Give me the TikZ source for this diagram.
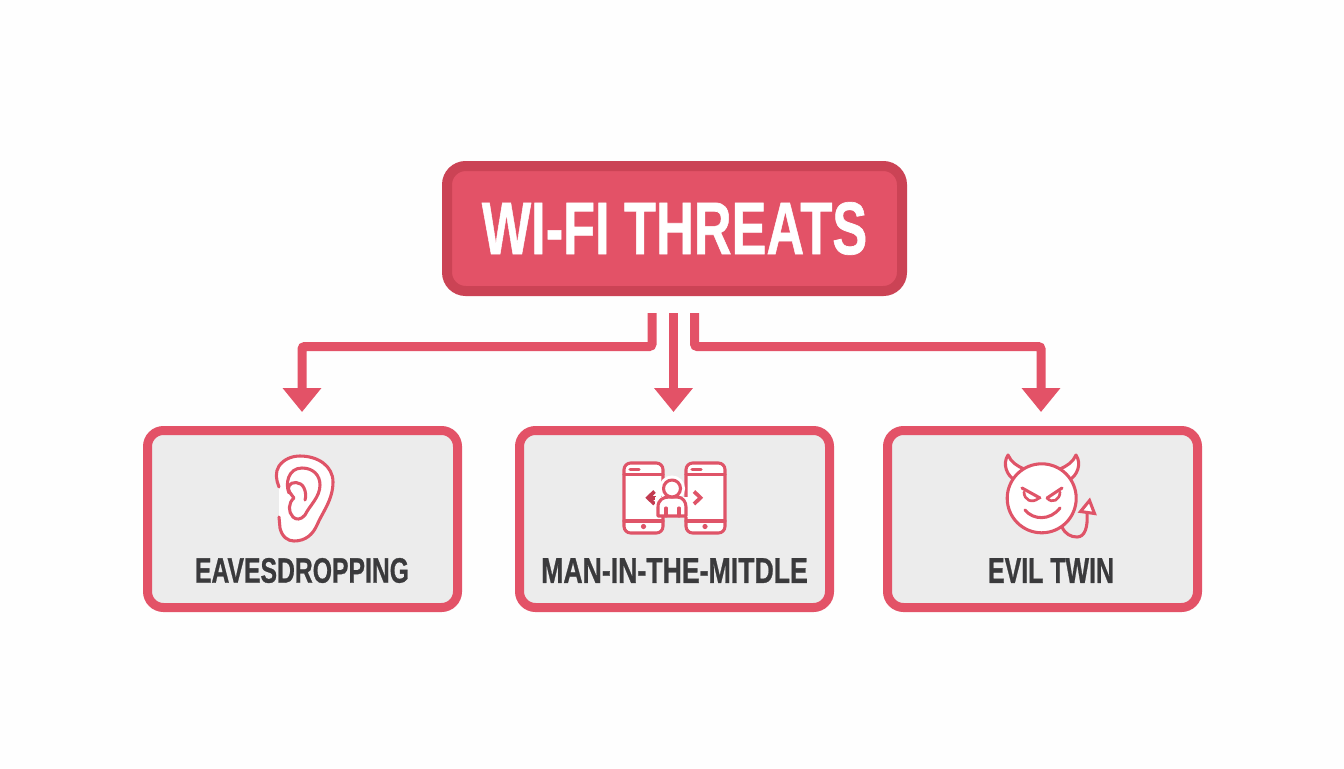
\documentclass[tikz,border=0pt]{standalone}
\usepackage{graphicx}
\usepackage{fontspec}
\setmainfont{Liberation Sans}[BoldFeatures={FakeBold=0.9}]
\usetikzlibrary{arrows.meta}
\definecolor{redmain}{HTML}{E35267}
\definecolor{reddark}{HTML}{CB4355}
\definecolor{redicon}{HTML}{DF5468}
\definecolor{redchev}{HTML}{C23A50}
\definecolor{boxgrey}{HTML}{ECECEC}
\definecolor{labelgrey}{HTML}{3A3A3C}
\newcommand{\fitlabel}[3]{\resizebox{#1pt}{#2pt}{\bfseries #3}}
\tikzset{
  rootbox/.style={draw=reddark,fill=redmain,line width=7.5pt,rounded corners=14pt,minimum width=341.25pt,minimum height=93.75pt,inner sep=0pt},
  threatbox/.style={draw=redmain,fill=boxgrey,line width=6.75pt,rounded corners=12pt,minimum width=232.5pt,minimum height=132.75pt,inner sep=0pt},
  txt/.style={inner sep=0pt,outer sep=0pt},
  link/.style={draw=redmain,line width=6.75pt,rounded corners=2pt},
  arrowlink/.style={link,-{Triangle[length=18pt,width=28pt]}},
  icon/.style={draw=redicon,line width=2.3pt,line cap=round,line join=round},
  iconfill/.style={icon,fill=white},
}
\begin{document}
\begin{tikzpicture}[x=0.75pt,y=-0.75pt]
\useasboundingbox (0,0) rectangle (1344,768);
\fill[white!99.5!black] (0,0) rectangle (1344,768);
% boxes
\node[rootbox] (root) at (674.5,228.5) {};
\node[txt,text=white] (roottext) at (674.5,228.5) {\fitlabel{289}{39}{WI-FI THREATS}};
\node[threatbox] (b1) at (302.5,519) {};
\node[threatbox] (b2) at (674.5,519) {};
\node[threatbox] (b3) at (1042.5,519) {};
\node[txt,text=labelgrey] (l1) at (302,570.5) {\fitlabel{160.5}{18.5}{EAVESDROPPING}};
\node[txt,text=labelgrey] (l2) at (674.5,570.5) {\fitlabel{200}{18.5}{MAN-IN-THE-MITDLE}};
\node[txt,text=labelgrey] (l3) at (1051,570.5) {\fitlabel{94.5}{18.5}{EVIL TWIN}};
% connectors
\coordinate (sL) at (652,313);
\coordinate (sC) at (673.5,313);
\coordinate (sR) at (694.5,313);
\coordinate (tL) at (302,412);
\coordinate (tC) at (673.5,412);
\coordinate (tR) at (1041,412);
\path[arrowlink] (sL) -- (652,346.5) -- (302,346.5) -- (tL);
\path[arrowlink] (sC) -- (tC);
\path[arrowlink] (sR) -- (694.5,346.5) -- (1041,346.5) -- (tR);
% ear
\fill[white] (279,487) -- (279,517) -- (280,528) .. controls (282,537) and (288,541) .. (294,541) .. controls (306,541) and (313,534) .. (317,525) .. controls (322,513) and (333,500) .. (333,482) .. controls (333,466) and (318,456) .. (300,456) .. controls (287,456) and (276,466) .. (277,478) -- cycle;
\draw[icon] (279,487) .. controls (276,480) and (275,472) .. (279,466) .. controls (284,459) and (292,456) .. (300,456) .. controls (318,456) and (333,466) .. (333,482) .. controls (333,500) and (322,513) .. (317,525) .. controls (313,534) and (306,541) .. (294,541) .. controls (288,541) and (282,537) .. (280,528) -- (279,517);
\draw[icon] (289,493) .. controls (285,484) and (288,468) .. (302,468) .. controls (313,468) and (320,475) .. (320,485) .. controls (320,497) and (310,505) .. (305,515) .. controls (301,520) and (296,520) .. (293,517) .. controls (288,512) and (288,503) .. (294,498) .. controls (291,494) and (287,490) .. (289,486) .. controls (291,481) and (301,481) .. (304,488) .. controls (306,492) and (306,497) .. (305,500);
% phones
\foreach \x/\b/\n in {624/643.5/a,686/705/b}{
  \draw[iconfill,rounded corners=5pt] (\x,463) rectangle (\x+39,533);
  \draw[icon] (\x,474.5) -- (\x+39,474.5);
  \draw[icon] (\x,521) -- (\x+39,521);
  \fill[redicon] (\b,526.5) circle (2.6);
}
\draw[icon] (630,469.5) -- (639,469.5);
\draw[icon] (692,469.5) -- (701,469.5);
% chevrons
\draw[redchev,line width=2.8pt,line join=miter] (654.5,491.5) -- (648,497.7) -- (654.5,504);
\draw[redchev,line width=2.8pt] (648,497.7) -- (656,497.7);
\draw[redicon,line width=2.8pt,line join=miter] (694,491.5) -- (700.5,497.7) -- (694,504);
% person
\draw[white,line width=3pt,fill=white] (672,488.5) circle (11);
\fill[white] (655,517) rectangle (689,497);
\draw[iconfill] (658,516) -- (658,507) .. controls (658,500) and (663,497) .. (669,497) -- (677,497) .. controls (683,497) and (686,502) .. (686,507) -- (686,516) -- cycle;
\draw[iconfill] (672,488.5) circle (8.5);
\draw[icon] (666,508) -- (666,516);
\draw[icon] (679,508) -- (679,516);
% devil
\draw[iconfill] (1015,480) .. controls (1007,476) and (1002,464) .. (1008,455) .. controls (1011,462) and (1017,466) .. (1024,469);
\draw[iconfill] (1069,480) .. controls (1077,476) and (1082,464) .. (1076,455) .. controls (1073,462) and (1067,466) .. (1060,469);
\draw[iconfill] (1041.7,498.3) circle (34.5);
\draw[icon] (1062,527) .. controls (1065,534) and (1071,537) .. (1077,537) .. controls (1085,537) and (1088,527) .. (1087,513);
\draw[iconfill,line join=miter] (1089.5,500.5) -- (1080.5,511.5) -- (1094.5,513.5) -- cycle;
\draw[icon] (1022,488) -- (1040,498);
\draw[icon,line width=2pt] (1024,492) .. controls (1024,500) and (1032,504) .. (1039,498);
\draw[icon] (1062,488) -- (1047,498);
\draw[icon,line width=2pt] (1060,492) .. controls (1060,500) and (1052,504) .. (1047,498);
\draw[icon] (1025,510) .. controls (1033,520) and (1050,521) .. (1060,508);
\end{tikzpicture}
\end{document}
